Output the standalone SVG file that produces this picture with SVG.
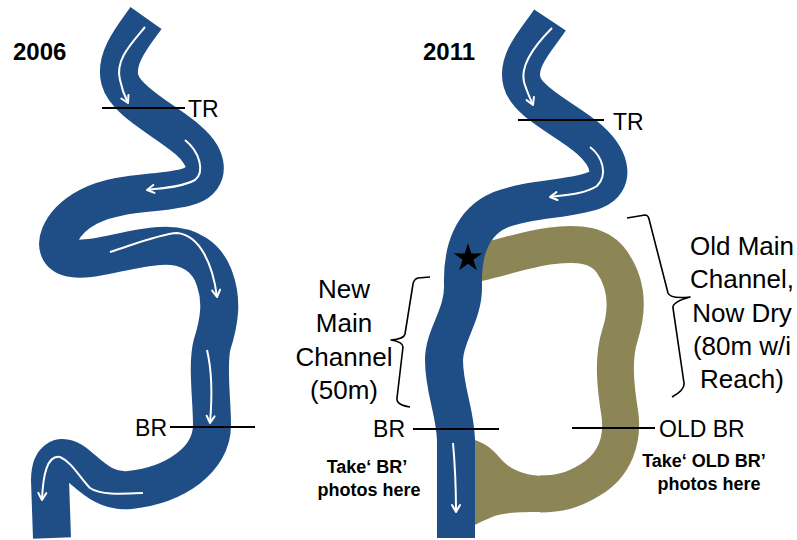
<svg xmlns="http://www.w3.org/2000/svg" width="797" height="540" viewBox="0 0 797 540">
<style>
.blue{fill:none;stroke:#1f4e86;stroke-width:38;stroke-linejoin:round;stroke-linecap:butt}
.olive{fill:none;stroke:#8c8556;stroke-width:37;stroke-linejoin:round;stroke-linecap:butt}
.flow{fill:none;stroke:#ffffff;stroke-width:2;marker-end:url(#ah)}
.sec{stroke:#000;stroke-width:2}
.br{fill:none;stroke:#000;stroke-width:1.6;stroke-linejoin:round}
.yr{font-family:"Liberation Sans",Arial,sans-serif;font-weight:bold;font-size:24px;fill:#000}
.lbl{font-family:"Liberation Sans",Arial,sans-serif;font-size:23px;fill:#000}
.big{font-family:"Liberation Sans",Arial,sans-serif;font-size:26px;fill:#000;text-anchor:middle}
.note{font-family:"Liberation Sans",Arial,sans-serif;font-weight:bold;font-size:18px;fill:#000;text-anchor:middle}
</style>
<defs>
<marker id="ah" markerUnits="userSpaceOnUse" markerWidth="14" markerHeight="14" viewBox="-10 -7 14 14" refX="0" refY="0" orient="auto">
<path d="M -7,-4 L 0,0 L -7,4" fill="none" stroke="#ffffff" stroke-width="2" stroke-linecap="round" stroke-linejoin="round"/>
</marker>
</defs>

<g id="river2006">
<path class="blue" d="M 146,18 C 134,35 114,58 120,80 C 126,102 165,120 188,140 C 208,157 212,178 190,186 C 165,195 120,190 88,207 C 60,222 48,250 68,257 C 88,264 125,248 160,246 C 190,244 208,258 215,280 C 222,300 220,320 212,345 C 207,365 212,400 212,425 C 212,460 175,485 130,490 C 105,493 90,475 75,463 C 60,452 50,460 50,480 L 52,538"/>
</g>

<g id="river2011-old">
<path class="olive" d="M 462,266 C 490,262 520,250 550,246 C 580,242 600,245 612,262 C 628,285 628,310 620,335 C 612,360 616,390 620,415 C 623,440 615,465 590,480 C 572,491 558,494 540,494"/>
<path d="M 460,438 C 480,438 492,448 500,458 C 510,470 525,476 545,476 L 545,512 C 522,512 505,512 492,517 C 480,522 470,528 460,530 Z" fill="#8c8556"/>
</g>

<g id="river2011">
<path class="blue" d="M 550,20 C 538,38 516,60 522,82 C 528,104 568,120 590,140 C 612,160 615,182 595,190 C 570,200 530,198 500,210 C 472,222 462,250 463,285 C 464,315 444,335 444,360 C 444,390 455,410 456,440 L 456,538"/>
</g>

<g id="connectors">
<path class="flow" d="M 145,27 C 130,45 115,60 120,80 C 122,90 125,97 128,103"/>
<path class="flow" d="M 185,140 C 200,152 205,172 195,180 C 180,188 160,188 147,190"/>
<path class="flow" d="M 110,252 C 135,244 160,234 177,233 C 200,235 213,265 217,297"/>
<path class="flow" d="M 207,350 C 213,375 212,400 210,423"/>
<path class="flow" d="M 143,493 C 120,494 100,495 90,488 C 80,478 72,462 60,457 C 47,455 43,475 42,500"/>
<path class="flow" d="M 552,28 C 535,45 520,65 524,82 C 527,92 530,98 533,105"/>
<path class="flow" d="M 590,147 C 603,157 608,175 597,186 C 585,194 565,195 550,197"/>
<path class="flow" d="M 453,443 C 455,465 456,490 456,512"/>
</g>

<g id="sections">
<line class="sec" x1="102" y1="108" x2="185" y2="108"/>
<line class="sec" x1="170" y1="427" x2="255" y2="427"/>
<line class="sec" x1="518" y1="120" x2="604" y2="120"/>
<line class="sec" x1="413" y1="429" x2="499" y2="429"/>
<line class="sec" x1="572" y1="428" x2="655" y2="428"/>
</g>

<g id="star">
<polygon points="468,243 471.35,253.39 482.27,253.36 473.42,259.76 476.82,270.14 468,263.7 459.18,270.14 462.58,259.76 453.73,253.36 464.65,253.39" fill="#000"/>
</g>

<g id="brackets">
<path class="br" d="M 430,277 L 418,278 Q 414,279 413,284 L 405,334 Q 404,339 391,340 Q 403,342 403,347 L 397,398 Q 396,405 410,407"/>
<path class="br" d="M 627,218 L 645,215 Q 648,215 649,219 L 668,293 Q 670,299 690,297 Q 672,302 673,308 L 684,383 Q 685,390 672,397"/>
</g>

<g id="labels">
<text class="yr" x="13" y="60">2006</text>
<text class="yr" x="423" y="60">2011</text>
<text class="lbl" x="188" y="117">TR</text>
<text class="lbl" x="167" y="436" text-anchor="end">BR</text>
<text class="lbl" x="613" y="130">TR</text>
<text class="lbl" x="405" y="437" text-anchor="end">BR</text>
<text class="lbl" x="659" y="437">OLD BR</text>
<text class="big" x="344" y="298">New</text>
<text class="big" x="344" y="332">Main</text>
<text class="big" x="344" y="366">Channel</text>
<text class="big" x="344" y="399">(50m)</text>
<text class="big" x="742" y="255">Old Main</text>
<text class="big" x="742" y="288">Channel,</text>
<text class="big" x="742" y="322">Now Dry</text>
<text class="big" x="742" y="355">(80m w/i</text>
<text class="big" x="742" y="388">Reach)</text>
<text class="note" x="367" y="473">Take‘ BR’</text>
<text class="note" x="369" y="496">photos here</text>
<text class="note" x="704" y="467">Take‘ OLD BR’</text>
<text class="note" x="709" y="490">photos here</text>
</g>
</svg>
